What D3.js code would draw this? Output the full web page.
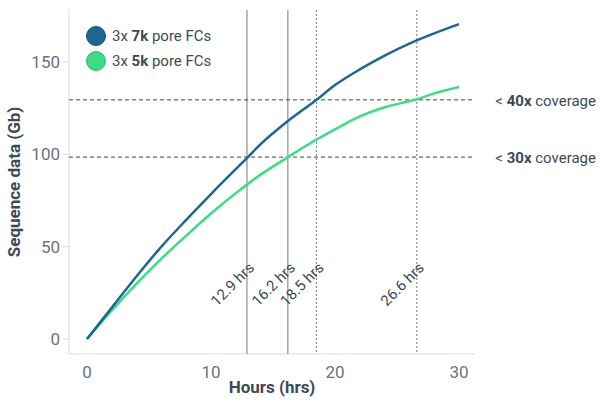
<!DOCTYPE html>
<html><head><meta charset="utf-8">
<script src="https://cdn.jsdelivr.net/npm/d3@7"></script>
<style>body{margin:0;background:#fff;font-family:Roboto,"Noto Sans",sans-serif;}</style>
</head><body><svg width="600" height="400"></svg>
<script>
const hours7k = [0, 2, 4, 6, 8, 10, 12, 12.9, 14, 16, 18, 18.5, 20, 22, 24, 26, 28, 30];
const gb7k = [0, 17, 34, 50, 64.5, 78.5, 92, 98, 105.5, 117, 127, 129.5, 137.5, 146, 153.5, 160, 165.5, 170.5];
const hours5k = [0, 2, 4, 6, 8, 10, 12, 14, 16.2, 18, 20, 22, 24, 26.6, 28, 30];
const gb5k = [0, 15.5, 30, 43.5, 56, 68, 79, 89, 98.5, 106, 113.5, 120.5, 125.5, 129.8, 133, 136.5];
const marks = [
  {h: 12.9, label: '12.9 hrs', dotted: false},
  {h: 16.2, label: '16.2 hrs', dotted: false},
  {h: 18.5, label: '18.5 hrs', dotted: true},
  {h: 26.6, label: '26.6 hrs', dotted: true}
];
const coverage = [{v: 129.5, label: '40x'}, {v: 98.5, label: '30x'}];
const xTicks = [0, 10, 20, 30];
const yTicks = [0, 50, 100, 150];

const svg = d3.select('svg');
const x = d3.scaleLinear().domain([0, 30]).range([87, 459]);
const y = d3.scaleLinear().domain([0, 150]).range([339, 62]);
const axisCol = '#d9d9d9', textCol = '#6b7278', dark = '#3d4a56';

// axes
svg.append('line').attr('x1', 69).attr('x2', 475).attr('y1', 354).attr('y2', 354).attr('stroke', axisCol);
svg.append('line').attr('x1', 69).attr('x2', 69).attr('y1', 10).attr('y2', 354).attr('stroke', axisCol);
yTicks.forEach(t => {
  svg.append('line').attr('x1', 63).attr('x2', 69).attr('y1', y(t)).attr('y2', y(t)).attr('stroke', axisCol);
  svg.append('text').attr('x', 60).attr('y', y(t) + 6).attr('text-anchor', 'end')
    .attr('font-size', 17).attr('fill', textCol).text(t);
});
xTicks.forEach(t => {
  svg.append('text').attr('x', x(t)).attr('y', 378).attr('text-anchor', 'middle')
    .attr('font-size', 17).attr('fill', textCol).text(t);
});
svg.append('text').attr('x', 272).attr('y', 393).attr('text-anchor', 'middle')
  .attr('font-size', 17).attr('font-weight', 'bold').attr('fill', dark).text('Hours (hrs)');
svg.append('text').attr('transform', 'translate(20,182) rotate(-90)').attr('text-anchor', 'middle')
  .attr('font-size', 17).attr('font-weight', 'bold').attr('fill', dark).text('Sequence data (Gb)');

// vertical markers
marks.forEach(m => {
  svg.append('line').attr('x1', x(m.h)).attr('x2', x(m.h)).attr('y1', 10).attr('y2', 354)
    .attr('stroke', '#777').attr('stroke-width', 1).attr('stroke-dasharray', m.dotted ? '2,2' : null);
  svg.append('text').attr('transform', `translate(${x(m.h) - 30},${307}) rotate(-45)`)
    .attr('font-size', 15).attr('fill', dark).text(m.label);
});

// coverage lines
coverage.forEach(c => {
  svg.append('line').attr('x1', 69).attr('x2', 475).attr('y1', y(c.v)).attr('y2', y(c.v))
    .attr('stroke', '#444').attr('stroke-dasharray', '4,3');
  const t = svg.append('text').attr('x', 596).attr('y', y(c.v) + 6).attr('text-anchor', 'end')
    .attr('font-size', 15).attr('fill', dark);
  t.append('tspan').text('< ');
  t.append('tspan').attr('font-weight', 'bold').text(c.label);
  t.append('tspan').text(' coverage');
});

// curves
const line = d3.line().x(d => x(d[0])).y(d => y(d[1])).curve(d3.curveMonotoneX);
svg.append('path').datum(hours5k.map((h, i) => [h, gb5k[i]])).attr('d', line)
  .attr('fill', 'none').attr('stroke', '#3ddc84').attr('stroke-width', 2.5);
svg.append('path').datum(hours7k.map((h, i) => [h, gb7k[i]])).attr('d', line)
  .attr('fill', 'none').attr('stroke', '#1f6690').attr('stroke-width', 2.5);

// legend
[['7k', '#1f6690', '#174e70', 36], ['5k', '#3ddc84', '#2bb86b', 61]].forEach(([k, fill, st, yy]) => {
  svg.append('circle').attr('cx', 96).attr('cy', yy).attr('r', 9.5).attr('fill', fill).attr('stroke', st);
  const t = svg.append('text').attr('x', 112).attr('y', yy + 5).attr('font-size', 15).attr('fill', dark);
  t.append('tspan').text('3x ');
  t.append('tspan').attr('font-weight', 'bold').text(k);
  t.append('tspan').text(' pore FCs');
});
</script></body></html>
